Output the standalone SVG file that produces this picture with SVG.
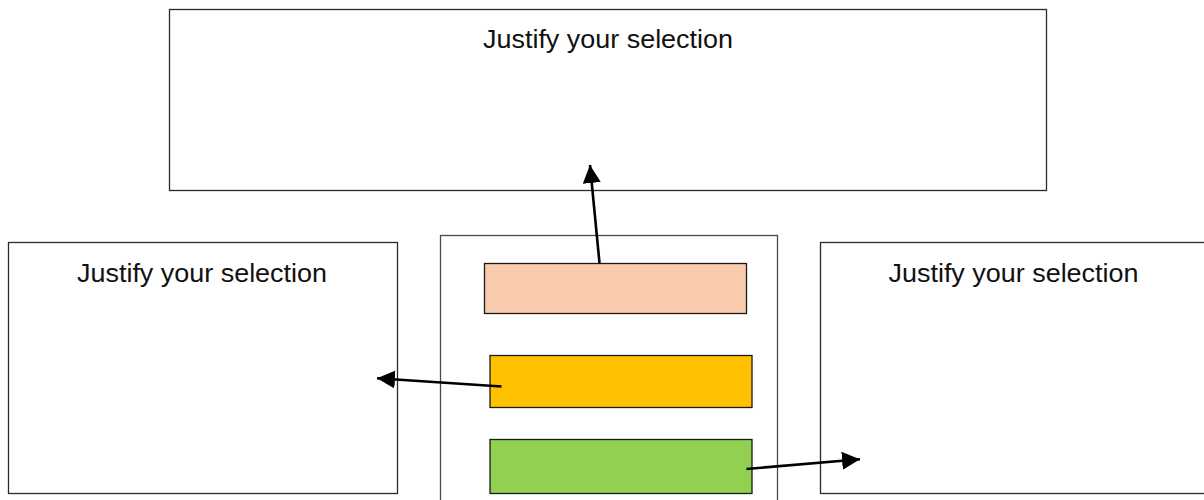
<svg xmlns="http://www.w3.org/2000/svg" width="1204" height="500" viewBox="0 0 1204 500">
<style>
.box{fill:#fff;stroke:#2b2b2b;stroke-width:1.3}
.bar{stroke:#1a1a1a;stroke-width:1.3}
.lbl{font-family:"Liberation Sans",Arial,sans-serif;font-size:26px;fill:#111;text-anchor:middle}
.arr{stroke:#000;stroke-width:2.6;fill:none;marker-end:url(#ah)}
</style>
<defs>
<marker id="ah" markerUnits="userSpaceOnUse" markerWidth="18" markerHeight="18" refX="16" refY="8" orient="auto" viewBox="0 0 16 16">
<path d="M0,0 L16,8 L0,16 Z" fill="#000"/>
</marker>
</defs>
<rect width="1204" height="500" fill="#fff"/>
<g id="top-box">
<rect class="box" x="169.5" y="9.5" width="877" height="181"/>
<text class="lbl" x="608" y="48" textLength="250" lengthAdjust="spacingAndGlyphs">Justify your selection</text>
</g>
<g id="left-box">
<rect class="box" x="8.5" y="242.5" width="389" height="251"/>
<text class="lbl" x="202" y="282" textLength="250" lengthAdjust="spacingAndGlyphs">Justify your selection</text>
</g>
<g id="right-box">
<rect class="box" x="820.5" y="242.5" width="390" height="251"/>
<text class="lbl" x="1013.5" y="282" textLength="250" lengthAdjust="spacingAndGlyphs">Justify your selection</text>
</g>
<g id="center-box">
<rect class="box" x="440.5" y="235.5" width="337" height="270" style="stroke:#4a4a4a"/>
</g>
<g id="peach-bar">
<rect class="bar" x="484.5" y="263.5" width="262" height="50" fill="#F8CBAD"/>
</g>
<g id="orange-bar">
<rect class="bar" x="490" y="355.5" width="262" height="52" fill="#FFC000"/>
</g>
<g id="green-bar">
<rect class="bar" x="490" y="439.5" width="262" height="54" fill="#92D050"/>
</g>
<g id="connectors">
<line class="arr" x1="599.5" y1="263" x2="590" y2="165"/>
<line class="arr" x1="501.5" y1="386.5" x2="377" y2="378.3"/>
<line class="arr" x1="746.5" y1="469" x2="860" y2="459.3"/>
</g>
</svg>
